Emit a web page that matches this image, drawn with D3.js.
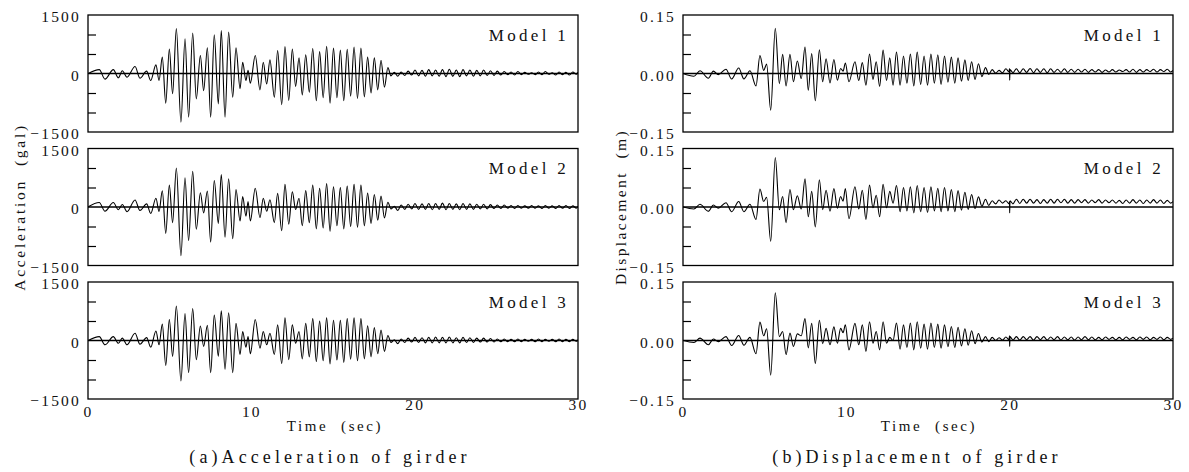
<!DOCTYPE html>
<html>
<head>
<meta charset="utf-8">
<script src="https://cdn.jsdelivr.net/npm/d3@7/dist/d3.min.js"></script>
<style>
  body { margin: 0; background: #fff; }
  svg { display: block; }
  svg text { font-family: "Liberation Serif", "Times New Roman", Times, "DejaVu Serif", serif; }
</style>
</head>
<body>
<svg id="chart" width="1189" height="472"></svg>
<script>
// extrema (time in sec), shared by the three models of each column
const accTimes = [
  0.00, 0.69, 1.04, 1.55, 1.86, 2.10, 2.39, 2.88, 3.18, 3.59, 3.84, 4.16, 4.35, 4.55, 4.76, 4.98, 5.18, 5.41, 5.69, 5.94,
  6.16, 6.41, 6.63, 6.88, 7.08, 7.31, 7.51, 7.73, 7.98, 8.16, 8.39, 8.61, 8.86, 9.06, 9.31, 9.47, 9.67, 9.80, 9.94, 10.24,
  10.53, 10.73, 10.94, 11.14, 11.41, 11.61, 11.86, 12.06, 12.29, 12.51, 12.71, 12.92,
  13.12, 13.33, 13.55, 13.76, 13.98, 14.18, 14.40, 14.61, 14.82, 15.03, 15.24, 15.45, 15.66, 15.87, 16.08, 16.29, 16.50,
  16.71, 16.92, 17.12, 17.33, 17.53, 17.74, 17.94, 18.15, 18.36, 18.55,
  18.75, 18.97, 19.17, 19.40, 19.60, 19.82, 20.02, 20.24, 20.45, 20.66, 20.86, 21.08, 21.28, 21.50, 21.70, 21.92, 22.12,
  22.34, 22.55, 22.76, 22.96, 23.18, 23.38, 23.60, 23.80, 24.02, 24.22, 24.44, 24.64, 24.86, 25.06, 25.28, 25.48, 25.70,
  25.90, 26.12, 26.32, 26.54, 26.74, 26.96, 27.16, 27.38, 27.58, 27.80, 28.00, 28.22, 28.42, 28.64, 28.84, 29.06, 29.26,
  29.48, 29.68, 29.90, 30.00
]
const accModel1 = [
  0, 100, -145, 100, -110, 70, -95, 180, -120, 60, -180, 220, -180, 420, -760, 630, -520, 1150, -1250, 890,
  -1120, 1040, -650, 460, -440, 660, -1120, 990, -780, 1100, -1120, 1060, -610, 660, -390, 290, -180, 80, -250, 460,
  -420, 290, -270, 350, -610, 590, -800, 690, -690, 630, -330, 400,
  -550, 480, -480, 640, -700, 560, -620, 700, -760, 650, -620, 600, -700, 620, -580, 680, -640, 650, -600, 420,
  -500, 400, -420, 340, -350, 150, -60,
  30, -70, 40, -50, 60, -40, 90, -60, 80, -70, 100, -60, 90, -70, 100, -80, 110, -70, 90, -80,
  100, -60, 90, -70, 80, -60, 90, -50, 70, -50, 60, -40, 50, -30, 40, -40, 50, -30, 30, -20,
  20, -30, 40, -30, 50, -20, 20, -40, 40, -30, 30, -40, 40, -20, 30
]
const accModel2 = [
  0, 115, -110, 115, -70, 65, -120, 180, -90, 80, -165, 225, -115, 415, -675, 560, -400, 1000, -1250, 750,
  -860, 915, -570, 365, -150, 410, -900, 680, -420, 830, -775, 725, -815, 450, -360, 265, -235, 140, -360, 480,
  -275, 225, -110, 185, -400, 350, -610, 580, -440, 390, -65, 225,
  -480, 420, -400, 560, -560, 480, -540, 600, -620, 520, -480, 500, -560, 540, -500, 580, -520, 560, -480, 360,
  -420, 320, -340, 280, -280, 120, -50,
  20, -90, 50, -60, 70, -50, 90, -60, 80, -60, 90, -70, 90, -60, 100, -70, 90, -60, 80, -70,
  90, -60, 80, -60, 70, -50, 70, -50, 60, -40, 50, -40, 50, -30, 40, -40, 40, -30, 30, -30,
  40, -30, 30, -40, 40, -30, 30, -40, 40, -30, 40, -40, 30, -30, 20
]
const accModel3 = [
  0, 100, -110, 100, -70, 60, -110, 185, -95, 75, -170, 245, -110, 420, -640, 540, -405, 885, -1040, 690,
  -825, 820, -490, 370, -150, 390, -825, 650, -405, 760, -740, 710, -825, 440, -360, 230, -170, 100, -340, 540,
  -195, 230, -110, 185, -360, 400, -590, 580, -490, 400, -70, 230,
  -470, 440, -420, 560, -540, 500, -520, 580, -600, 520, -500, 520, -560, 560, -480, 580, -520, 560, -470, 380,
  -420, 330, -340, 270, -280, 130, -50,
  20, -80, 40, -50, 60, -40, 80, -50, 70, -60, 80, -60, 90, -60, 80, -60, 90, -60, 70, -60,
  80, -50, 70, -50, 60, -40, 60, -40, 50, -40, 40, -30, 40, -30, 30, -30, 40, -30, 30, -20,
  30, -30, 40, -30, 30, -20, 30, -30, 40, -30, 30, -30, 30, -20, 20
]

const dispTimes = [
  0.00, 0.67, 1.04, 1.55, 1.86, 2.16, 2.63, 2.98, 3.41, 3.73, 4.10, 4.47, 4.71, 4.94, 5.12, 5.37, 5.65, 5.90, 6.10, 6.31,
  6.55, 6.76, 7.00, 7.24, 7.47, 7.67, 7.88, 8.10, 8.35, 8.55, 8.76, 9.00, 9.24, 9.45, 9.65, 9.80, 9.94, 10.16, 10.53, 10.76,
  10.98, 11.20, 11.42, 11.63, 11.83, 12.04, 12.25, 12.46, 12.66, 12.86,
  13.07, 13.29, 13.50, 13.71, 13.92, 14.13, 14.34, 14.55, 14.76, 14.97, 15.18, 15.39, 15.60, 15.80, 16.01, 16.22, 16.43,
  16.64, 16.84, 17.05, 17.26, 17.46, 17.67, 17.88, 18.09, 18.30, 18.52,
  18.72, 18.93, 19.14, 19.35, 19.56, 19.77, 19.96, 19.99, 20.00, 20.02, 20.20, 20.41, 20.62, 20.83, 21.04, 21.25, 21.46,
  21.67, 21.88, 22.09, 22.30, 22.51, 22.72, 22.93, 23.14, 23.35, 23.56, 23.77, 23.98, 24.19, 24.40, 24.61, 24.82, 25.03,
  25.24, 25.45, 25.66, 25.87, 26.08, 26.29, 26.50, 26.71, 26.92, 27.13, 27.34, 27.55, 27.76, 27.97, 28.18, 28.39, 28.60,
  28.81, 29.02, 29.23, 29.44, 29.65, 29.86, 30.00
]
const dispModel1 = [
  0, -0.007, 0.007, -0.012, 0.006, -0.003, 0.011, -0.014, 0.014, -0.014, 0.007, -0.032, 0.046, 0.008, 0.024, -0.094, 0.116, -0.026, 0.049, -0.032,
  0.049, -0.021, 0.032, -0.013, 0.068, -0.043, 0.051, -0.070, 0.061, -0.021, 0.038, -0.024, 0.036, -0.017, 0.013, 0.006, 0.027, -0.021, 0.030, -0.018,
  0.028, -0.030, 0.050, -0.015, 0.030, -0.033, 0.060, -0.018, 0.040, -0.030,
  0.055, -0.030, 0.045, -0.025, 0.050, -0.032, 0.055, -0.028, 0.045, -0.030, 0.050, -0.025, 0.048, -0.028, 0.045, -0.022, 0.042,
  -0.025, 0.040, -0.020, 0.035, -0.018, 0.030, -0.015, 0.025, -0.008, 0.015,
  -0.002, 0.010, 0.001, 0.008, 0.002, 0.012, 0.004, 0.013, -0.017, 0.010, 0.002, 0.012, 0.002, 0.012, 0.003, 0.013, 0.002,
  0.012, 0.003, 0.012, 0.002, 0.012, 0.003, 0.011, 0.003, 0.012, 0.003, 0.011, 0.003, 0.011, 0.004, 0.011, 0.003, 0.010,
  0.004, 0.010, 0.003, 0.009, 0.004, 0.010, 0.004, 0.009, 0.005, 0.010, 0.004, 0.011, 0.003, 0.010, 0.004, 0.010, 0.005,
  0.011, 0.004, 0.010, 0.005, 0.011, 0.004, 0.008
]
const dispModel2 = [
  0, -0.005, 0.007, -0.011, 0.005, -0.003, 0.011, -0.012, 0.014, -0.012, 0.007, -0.032, 0.046, 0.014, 0.025, -0.088, 0.127, -0.007, 0.027, -0.040,
  0.045, -0.007, 0.029, -0.005, 0.072, -0.025, 0.040, -0.051, 0.070, -0.007, 0.043, -0.011, 0.047, -0.003, 0.027, 0.015, 0.047, -0.030, 0.052, -0.005,
  0.043, -0.032, 0.056, -0.002, 0.030, -0.025, 0.058, -0.002, 0.040, 0.010,
  0.055, -0.012, 0.050, -0.010, 0.052, -0.015, 0.055, -0.012, 0.050, -0.014, 0.052, -0.010, 0.048, -0.012, 0.050, -0.010, 0.045,
  -0.012, 0.042, -0.008, 0.038, -0.006, 0.032, -0.004, 0.026, 0.002, 0.020,
  0.004, 0.016, 0.008, 0.018, 0.010, 0.016, 0.008, 0.014, -0.015, 0.016, 0.008, 0.020, 0.009, 0.020, 0.010, 0.020, 0.010,
  0.019, 0.009, 0.019, 0.010, 0.020, 0.010, 0.020, 0.011, 0.020, 0.010, 0.019, 0.010, 0.019, 0.011, 0.019, 0.010, 0.018,
  0.011, 0.019, 0.010, 0.018, 0.011, 0.018, 0.010, 0.017, 0.009, 0.018, 0.010, 0.019, 0.010, 0.018, 0.009, 0.018, 0.010,
  0.019, 0.010, 0.018, 0.009, 0.017, 0.010, 0.014
]
const dispModel3 = [
  0, -0.005, 0.006, -0.011, 0.004, -0.003, 0.010, -0.013, 0.013, -0.012, 0.008, -0.034, 0.047, 0.012, 0.030, -0.089, 0.122, 0.010, 0.023, -0.036,
  0.019, -0.015, 0.017, 0.012, 0.056, -0.019, 0.044, -0.059, 0.052, -0.008, 0.031, -0.011, 0.035, -0.007, 0.031, 0.020, 0.040, -0.024, 0.044, -0.011,
  0.040, -0.028, 0.048, -0.007, 0.023, -0.024, 0.048, -0.007, 0.008, 0.000,
  0.045, -0.022, 0.040, -0.018, 0.045, -0.024, 0.048, -0.020, 0.042, -0.022, 0.045, -0.018, 0.042, -0.020, 0.040, -0.016, 0.036,
  -0.018, 0.034, -0.014, 0.030, -0.012, 0.025, -0.008, 0.018, -0.004, 0.010,
  -0.003, 0.008, 0.000, 0.007, 0.001, 0.009, 0.002, 0.012, -0.015, 0.010, 0.001, 0.010, 0.001, 0.010, 0.002, 0.010, 0.001,
  0.010, 0.002, 0.010, 0.001, 0.009, 0.002, 0.010, 0.001, 0.009, 0.002, 0.009, 0.001, 0.009, 0.002, 0.010, 0.002, 0.009,
  0.002, 0.008, 0.002, 0.009, 0.003, 0.008, 0.002, 0.008, 0.002, 0.009, 0.003, 0.008, 0.002, 0.009, 0.003, 0.009, 0.002,
  0.008, 0.003, 0.009, 0.002, 0.008, 0.003, 0.006
]

const modelNames = ['Model 1', 'Model 2', 'Model 3']
const timeTicks = [0, 10, 20, 30]
const accLabelTicks = [1500, 0, -1500]
const accMinorTicks = [1000, 500, -500, -1000]
const dispLabelTicks = [0.15, 0, -0.15]
const dispMinorTicks = [0.1, 0.05, -0.05, -0.1]

const serif = '"Liberation Serif", "Times New Roman", Times, "DejaVu Serif", serif'

const columns = [
  {
    left: 88, right: 578, max: 1500, times: accTimes, series: [accModel1, accModel2, accModel3],
    labelTicks: accLabelTicks, minorTicks: accMinorTicks, format: d => d3.format('d')(d),
    yLabel: 'Acceleration\u00a0 (gal)', yLabelX: 20, caption: '(a)Acceleration of girder', captionX: 330, timeX: 335
  },
  {
    left: 683, right: 1173, max: 0.15, times: dispTimes, series: [dispModel1, dispModel2, dispModel3],
    labelTicks: dispLabelTicks, minorTicks: dispMinorTicks, format: d => d3.format('.2f')(d),
    yLabel: 'Displacement\u00a0 (m)', yLabelX: 621, caption: '(b)Displacement of girder', captionX: 917, timeX: 929
  }
]

const panelTop = 15
const panelHeight = 117
const panelStep = 133.5

const svg = d3.select('#chart')

columns.forEach((col, ci) => {
  const x = d3.scaleLinear().domain([0, 30]).range([col.left, col.right])

  col.series.forEach((values, pi) => {
    const top = panelTop + pi * panelStep
    const bottom = top + panelHeight
    const y = d3.scaleLinear().domain([-col.max, col.max]).range([bottom, top])
    const g = svg.append('g')

    const clipId = `clip-${ci}-${pi}`
    svg.append('clipPath').attr('id', clipId)
      .append('rect')
      .attr('x', col.left).attr('y', top)
      .attr('width', col.right - col.left).attr('height', panelHeight)

    // zero line
    g.append('line')
      .attr('x1', col.left).attr('x2', col.right)
      .attr('y1', y(0)).attr('y2', y(0))
      .attr('stroke', '#000').attr('stroke-width', 1.6)

    const points = col.times.map((t, i) => [t, values[i]]).filter(d => d[1] !== undefined)
    const line = d3.line()
      .x(d => x(d[0]))
      .y(d => y(d[1]))
      .curve(d3.curveMonotoneX)

    g.append('path')
      .datum(points)
      .attr('clip-path', `url(#${clipId})`)
      .attr('d', line)
      .attr('fill', 'none')
      .attr('stroke', '#000')
      .attr('stroke-width', 1.1)

    // inner ticks on the left side
    const minorAxis = g.append('g')
      .attr('transform', `translate(${col.left},0)`)
      .call(d3.axisRight(y).tickValues(col.minorTicks).tickSize(8).tickFormat(''))
    minorAxis.select('.domain').remove()
    minorAxis.selectAll('line').attr('stroke', '#000').attr('stroke-width', 1.2)

    const labelAxis = g.append('g')
      .attr('transform', `translate(${col.left - 4},2)`)
      .call(d3.axisLeft(y).tickValues(col.labelTicks).tickSize(0).tickFormat(col.format))
    labelAxis.select('.domain').remove()
    labelAxis.attr('font-family', null).attr('font-size', null)
    labelAxis.selectAll('text')
      .attr('fill', '#111')
      .style('font-family', serif)
      .style('font-size', '15.5px')
      .style('letter-spacing', '2.2px')

    g.append('rect')
      .attr('x', col.left).attr('y', top)
      .attr('width', col.right - col.left).attr('height', panelHeight)
      .attr('fill', 'none').attr('stroke', '#000').attr('stroke-width', 1.3)

    g.append('text')
      .attr('x', col.right - 9)
      .attr('y', top + 25.5)
      .attr('text-anchor', 'end')
      .style('font-size', '17px')
      .style('letter-spacing', '3.3px')
      .attr('fill', '#111')
      .text(modelNames[pi])

    if (pi === 2) {
      const timeAxis = g.append('g')
        .attr('transform', `translate(0,${bottom + 6})`)
        .call(d3.axisBottom(x).tickValues(timeTicks).tickSize(0).tickFormat(d3.format('d')))
      timeAxis.select('.domain').remove()
      timeAxis.attr('font-family', null).attr('font-size', null)
      timeAxis.selectAll('text')
        .attr('fill', '#111')
        .attr('dy', d => (d >= 20 ? '0.1em' : '0.55em'))
        .style('font-family', serif)
        .style('font-size', '15.5px')
        .style('letter-spacing', '2.2px')
    }
  })

  svg.append('text')
    .attr('x', col.timeX).attr('y', 431)
    .attr('text-anchor', 'middle')
    .style('font-size', '15px')
    .style('letter-spacing', '2.6px')
    .attr('fill', '#111')
    .text('Time\u00a0 (sec)')

  svg.append('text')
    .attr('x', col.captionX).attr('y', 463)
    .attr('text-anchor', 'middle')
    .style('font-size', '18px')
    .style('letter-spacing', '4.1px')
    .attr('fill', '#111')
    .text(col.caption)

  svg.append('text')
    .attr('transform', `translate(${col.yLabelX},207) rotate(-90)`)
    .attr('text-anchor', 'middle')
    .attr('dy', '0.35em')
    .style('font-size', '15.5px')
    .style('letter-spacing', ci === 0 ? '2.7px' : '2.4px')
    .attr('fill', '#111')
    .text(col.yLabel)
})
</script>
</body>
</html>
